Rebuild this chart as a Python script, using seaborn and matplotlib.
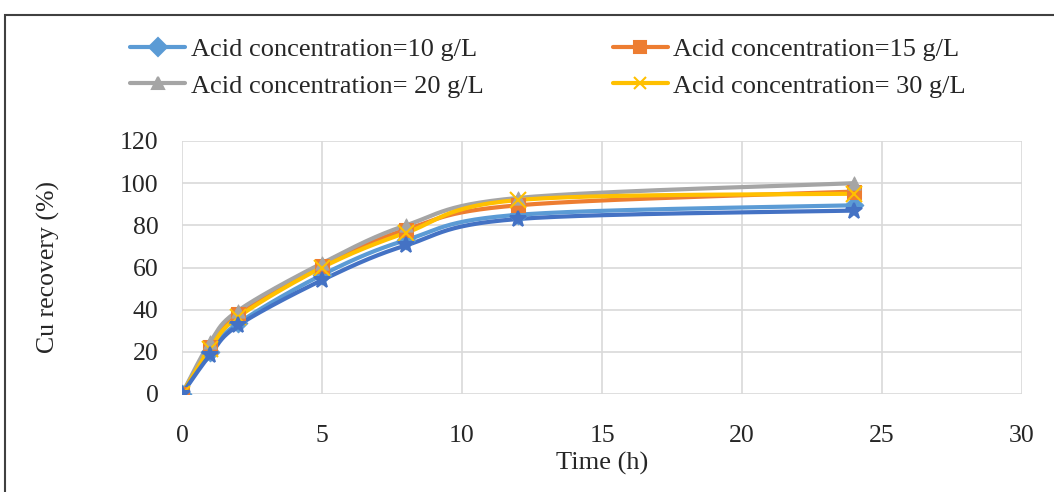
import numpy as np
import pandas as pd
import matplotlib
matplotlib.use("Agg")
import matplotlib.pyplot as plt
from matplotlib.lines import Line2D
from matplotlib.patches import Rectangle
import seaborn as sns

# data
time_h = [0, 1, 2, 5, 8, 12, 24]
acid_10 = [0, 20, 33.5, 56.5, 73, 85, 89.5]
acid_15 = [0, 22.5, 38, 60.5, 78, 89.5, 96]
acid_20 = [0, 24.5, 39.5, 62, 80, 93, 100]
acid_30 = [0, 21.5, 36.5, 60, 76.5, 92, 95]
acid_40 = [0, 18.5, 32.5, 54, 70.5, 83, 87]

series_names = ["Acid concentration=10 g/L", "Acid concentration=15 g/L",
                "Acid concentration= 20 g/L", "Acid concentration= 30 g/L",
                "Acid concentration=40 g/L"]
series_vals = [acid_10, acid_15, acid_20, acid_30, acid_40]
colors = ["#5B9BD5", "#ED7D31", "#A5A5A5", "#FFC000", "#4472C4"]
markers = ["D", "s", "^", "x", "*"]


def smooth(xs, ys, n=30):
    # excel style smoothed line (catmull-rom bezier)
    x = np.asarray(xs, float)
    y = np.asarray(ys, float)
    px = np.concatenate([[x[0]], x, [x[-1]]])
    py = np.concatenate([[y[0]], y, [y[-1]]])
    out_x, out_y = [], []
    t = np.linspace(0, 1, n)
    for i in range(1, len(px) - 2):
        p0 = np.array([px[i], py[i]])
        p3 = np.array([px[i + 1], py[i + 1]])
        c1 = p0 + (p3 - np.array([px[i - 1], py[i - 1]])) / 6
        c2 = p3 - (np.array([px[i + 2], py[i + 2]]) - p0) / 6
        pts = ((1 - t) ** 3)[:, None] * p0 + (3 * (1 - t) ** 2 * t)[:, None] * c1 \
            + (3 * (1 - t) * t ** 2)[:, None] * c2 + (t ** 3)[:, None] * p3
        out_x.extend(pts[:, 0])
        out_y.extend(pts[:, 1])
    return out_x, out_y


sns.set_style("white")
plt.rcParams['font.family'] = ['Liberation Serif', 'DejaVu Serif']

fig = plt.figure(figsize=(10.54, 4.92), dpi=100)
ax = fig.add_axes([182 / 1054, 1 - 394 / 492, 840 / 1054, 253 / 492])

for name, vals, col, mk in zip(series_names, series_vals, colors, markers):
    sx, sy = smooth(time_h, vals)
    curve = pd.DataFrame({"t": sx, "v": sy})
    sns.lineplot(data=curve, x="t", y="v", ax=ax, color=col, lw=3, sort=False,
                 estimator=None, legend=False, zorder=3)
    pts = pd.DataFrame({"t": time_h, "v": vals})
    if mk in ("x", "*"):
        ax.plot(pts["t"], pts["v"], ls="none", marker=mk, color=col,
                markersize=12, mew=1.5, zorder=4)
    else:
        sns.scatterplot(data=pts, x="t", y="v", ax=ax, color=col, marker=mk,
                        s=90, edgecolor=col, legend=False, zorder=4)

ax.set_xlim(0, 30)
ax.set_ylim(0, 120)
ax.set_xticks(range(0, 31, 5))
ax.set_yticks(range(0, 121, 20))
ax.grid(True, color="#D9D9D9", lw=1.2)
for s in ax.spines.values():
    s.set_visible(False)
ax.tick_params(axis="x", length=0, pad=22, labelsize=18.5)
ax.tick_params(axis="y", length=0, pad=17, labelsize=18.5)
ax.set_xlabel("Time (h)", fontsize=19, labelpad=4)
ax.set_ylabel("Cu recovery (%)", fontsize=18.5)
ax.yaxis.set_label_coords(-0.145, 0.5)

handles = []
for i in [0, 2, 1, 3]:
    handles.append(Line2D([], [], color=colors[i], lw=3, marker=markers[i],
                          markersize=9, mew=1.5, label=series_names[i]))
fig.legend(handles=handles, ncol=2, loc="center left",
           bbox_to_anchor=(130 / 1054, 1 - 67.5 / 492), frameon=False,
           fontsize=19, handlelength=2.1, handletextpad=0.2,
           columnspacing=4.9, labelspacing=0.5, borderaxespad=0, borderpad=0)

fig.patches.append(Rectangle((5 / 1054, -0.2), 1.2, 1.2 - 15 / 492 + 0.0,
                             transform=fig.transFigure, fill=False,
                             edgecolor="#404040", lw=1.5, clip_on=False))

fig.savefig("out.png", dpi=100)
